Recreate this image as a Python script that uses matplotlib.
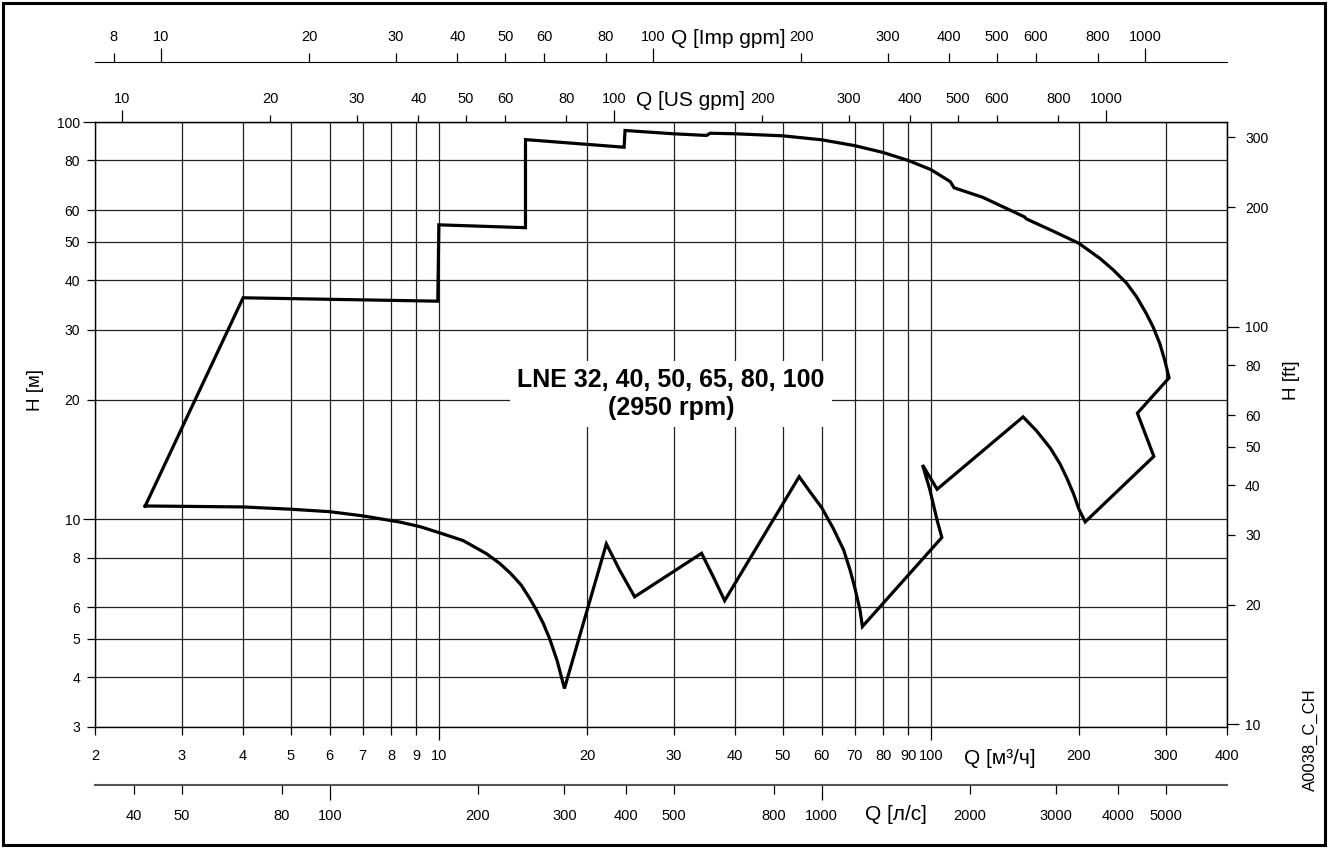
import matplotlib
matplotlib.use('Agg')
import matplotlib.pyplot as plt
from matplotlib.ticker import FixedLocator, FuncFormatter
from matplotlib import font_manager
from matplotlib.patches import Rectangle

names = {f.name for f in font_manager.fontManager.ttflist}
BASE = 'Liberation Sans' if 'Liberation Sans' in names else 'DejaVu Sans'
NARROW = 'Liberation Sans Narrow' if 'Liberation Sans Narrow' in names else BASE
plt.rcParams['font.family'] = [BASE, 'DejaVu Sans']

# ---- performance field envelope (Q in m3/h, H in m) ----
Q_env = [2.53, 4.0, 9.95, 10.0, 15.0, 15.0, 23.8, 23.9, 30.0, 35.0, 35.6, 40.0,
         50.0, 60.0, 70.0, 80.0, 90.0, 100.0, 109.5, 111.5, 127.6, 155.0, 156.5,
         178.0, 200.0, 221.0, 235.0, 250.0, 262.0, 274.0, 283.0, 292.0, 299.0, 305.0,
         263.0, 284.0,
         206.0, 200.0, 195.0, 189.0, 183.0, 175.0, 164.0, 154.0,
         103.0, 96.2, 99.5, 103.0, 105.3,
         72.6, 71.8, 70.0, 68.5, 66.5, 63.3, 60.0, 56.6, 54.0,
         38.1, 36.1, 34.2,
         25.0, 23.3, 21.9,
         18.0, 17.4, 16.8, 16.3, 15.8, 15.3, 14.7, 14.0, 13.3, 12.5, 11.2, 10.1,
         9.16, 8.33, 7.0, 6.0, 5.0, 4.0, 3.0, 2.53]
H_env = [10.8, 36.1, 35.4, 55.1, 54.2, 90.3, 86.4, 95.2, 93.4, 92.5, 93.7, 93.4,
         92.3, 90.2, 87.2, 83.8, 80.0, 75.9, 70.8, 68.3, 64.6, 57.7, 57.0,
         53.0, 49.5, 45.3, 42.4, 39.3, 36.3, 33.0, 30.5, 27.7, 25.1, 22.7,
         18.5, 14.4,
         9.85, 10.6, 11.6, 12.7, 13.8, 15.1, 16.7, 18.1,
         11.9, 13.7, 11.9, 9.94, 9.0,
         5.37, 5.9, 6.76, 7.46, 8.37, 9.5, 10.7, 11.8, 12.8,
         6.24, 7.18, 8.21,
         6.38, 7.45, 8.67,
         3.75, 4.40, 5.0, 5.47, 5.9, 6.32, 6.83, 7.3, 7.74, 8.19, 8.84, 9.22,
         9.58, 9.84, 10.2, 10.45, 10.6, 10.74, 10.78, 10.8]

# ---- ticks ----
x_major = [10, 100]
x_minor = [2, 3, 4, 5, 6, 7, 8, 9, 20, 30, 40, 50, 60, 70, 80, 90, 200, 300, 400]
y_major = [10, 100]
y_minor = [3, 4, 5, 6, 8, 20, 30, 40, 50, 60, 80]
ft_major = [10, 100]
ft_minor = [20, 30, 40, 50, 60, 80, 200, 300]
us_major = [10, 100, 1000]
us_minor = [20, 30, 40, 50, 60, 80, 200, 300, 400, 500, 600, 800]
imp_major = [10, 100, 1000]
imp_minor = [8, 20, 30, 40, 50, 60, 80, 200, 300, 400, 500, 600, 800]
lmin_major = [100, 1000]
lmin_minor = [40, 50, 80, 200, 300, 400, 500, 800, 2000, 3000, 4000, 5000]

US = 4.4029
IMP = 3.6662
LMIN = 1000.0 / 60.0
FT = 3.28084

W, H = 1328, 848
PT = 0.72  # px -> pt

fig = plt.figure(figsize=(W / 100, H / 100), dpi=100)
fig.patch.set_facecolor('white')
ax = fig.add_axes([95 / W, 1 - 727 / H, (1227 - 95) / W, (727 - 122) / H])
ax.set_xscale('log')
ax.set_yscale('log')
ax.set_xlim(2, 400)
ax.set_ylim(3, 100)

ax.plot(Q_env, H_env, color='black', lw=2.3, solid_joinstyle='miter', zorder=3)

fmt = FuncFormatter(lambda v, p: f'{v:g}')

def setup(axis, major, minor):
    axis.set_major_locator(FixedLocator(major))
    axis.set_minor_locator(FixedLocator(minor))
    axis.set_major_formatter(fmt)
    axis.set_minor_formatter(fmt)

setup(ax.xaxis, x_major, x_minor)
setup(ax.yaxis, y_major, y_minor)
ax.grid(True, which='both', color='#222222', lw=0.9)
for s in ax.spines.values():
    s.set_color('black')
    s.set_linewidth(1.0)

ax.tick_params(axis='x', which='major', length=13 * PT, pad=9 * PT, width=0.9,
               labelsize=10.5, labelfontfamily=NARROW)
ax.tick_params(axis='x', which='minor', length=8 * PT, pad=14 * PT, width=0.9,
               labelsize=10.5, labelfontfamily=NARROW)
ax.tick_params(axis='y', which='major', length=12 * PT, pad=3 * PT, width=0.9,
               labelsize=10)
ax.tick_params(axis='y', which='minor', length=8 * PT, pad=7 * PT, width=0.9,
               labelsize=10)

# right axis: feet
ax_ft = ax.secondary_yaxis('right', functions=(lambda h: h * FT, lambda f: f / FT))
setup(ax_ft.yaxis, ft_major, ft_minor)
ax_ft.tick_params(which='major', length=12 * PT, pad=6 * PT, width=0.9, labelsize=10)
ax_ft.tick_params(which='minor', length=8 * PT, pad=10 * PT, width=0.9, labelsize=10)

# top axis: US gpm
ax_us = ax.secondary_xaxis('top', functions=(lambda q: q * US, lambda g: g / US))
setup(ax_us.xaxis, us_major, us_minor)
ax_us.tick_params(which='major', length=12 * PT, pad=4 * PT, width=0.9,
                  labelsize=10.5, labelfontfamily=NARROW)
ax_us.tick_params(which='minor', length=7 * PT, pad=9 * PT, width=0.9,
                  labelsize=10.5, labelfontfamily=NARROW)

# upper axis: Imp gpm
ax_imp = ax.secondary_xaxis((727 - 62) / 605, functions=(lambda q: q * IMP, lambda g: g / IMP))
setup(ax_imp.xaxis, imp_major, imp_minor)
ax_imp.tick_params(which='major', length=14 * PT, pad=4 * PT, width=0.9,
                   labelsize=10.5, labelfontfamily=NARROW)
ax_imp.tick_params(which='minor', length=9 * PT, pad=9 * PT, width=0.9,
                   labelsize=10.5, labelfontfamily=NARROW)

# lower axis: l/min
ax_l = ax.secondary_xaxis((727 - 785) / 605, functions=(lambda q: q * LMIN, lambda l: l / LMIN))
setup(ax_l.xaxis, lmin_major, lmin_minor)
ax_l.tick_params(which='major', length=15 * PT, pad=9 * PT, width=0.9,
                 labelsize=10.5, labelfontfamily=NARROW)
ax_l.tick_params(which='minor', length=9 * PT, pad=15 * PT, width=0.9,
                 labelsize=10.5, labelfontfamily=NARROW)
for s in ax_l.spines.values():
    s.set_color('#555555')
    s.set_linewidth(1.5)

# axis titles
fig.text(728 / W, 1 - 38 / H, 'Q [Imp gpm]', fontsize=15, ha='center', va='center')
fig.text(691 / W, 1 - 100 / H, 'Q [US gpm]', fontsize=15, ha='center', va='center')
fig.text(1000 / W, 1 - 758 / H, 'Q [м³/ч]', fontsize=15, ha='center', va='center')
fig.text(896 / W, 1 - 815 / H, 'Q [л/с]', fontsize=15, ha='center', va='center')
fig.text(36 / W, 1 - 390 / H, 'H [м]', fontsize=13.5, rotation=90, ha='center', va='center')
fig.text(1291 / W, 1 - 380 / H, 'H [ft]', fontsize=13.5, rotation=90, ha='center', va='center')
fig.text(1310 / W, 1 - 740 / H, 'A0038_C_CH', fontsize=12, rotation=90, ha='center', va='center')

fig.text(671 / W, 1 - 394 / H, 'LNE 32, 40, 50, 65, 80, 100\n(2950 rpm)', fontsize=18,
         fontweight='bold', ha='center', va='center', multialignment='center',
         linespacing=1.2,
         bbox=dict(boxstyle='square,pad=0.3', fc='white', ec='none'))

fig.patches.append(Rectangle((3 / W, 3 / H), 1322 / W, 842 / H, transform=fig.transFigure,
                             fill=False, lw=2.2, ec='black'))

fig.savefig('out.png', dpi=100)
